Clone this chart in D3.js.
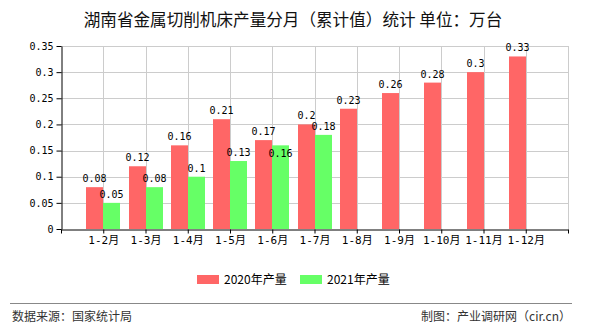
<!DOCTYPE html>
<html><head><meta charset="utf-8">
<script src="https://cdn.jsdelivr.net/npm/d3@7/dist/d3.min.js"></script>
<style>body{margin:0;background:#fff}svg{display:block}</style>
</head><body>
<svg id="c" width="590" height="330"></svg>
<script>
const categories = ["1-2月","1-3月","1-4月","1-5月","1-6月","1-7月","1-8月","1-9月","1-10月","1-11月","1-12月"];
const values2020 = [0.08,0.12,0.16,0.21,0.17,0.2,0.23,0.26,0.28,0.3,0.33];
const values2021 = [0.05,0.08,0.1,0.13,0.16,0.18];
const yTicks = [0,0.05,0.1,0.15,0.2,0.25,0.3,0.35];
const yTickLabels = ["0","0.05","0.1","0.15","0.2","0.25","0.3","0.35"];
const seriesNames = ["2020年产量","2021年产量"];
const colors = ["#ff6666","#66ff66"];
const title = "湖南省金属切削机床产量分月（累计值）统计 单位：万台";

const svg = d3.select("#c");
const L = 61, R = 568, T = 46, B = 229;
const x = d3.scaleLinear().domain([0, categories.length + 1]).range([L, R]);
const y = d3.scaleLinear().domain([0, 0.35]).range([B, T]);
const bw = 17;
const mono = "'DejaVu Sans Mono','Noto Sans CJK SC',monospace";
const cjk = "'Noto Sans CJK SC','DejaVu Sans',sans-serif";

svg.append("text").attr("x", 293).attr("y", 26).attr("text-anchor","middle")
  .attr("font-family", cjk).attr("font-size", 16.6).attr("fill","#111").text(title);

// grid
const g = svg.append("g");
g.selectAll(".hg").data(yTicks.slice(1)).join("line")
  .attr("x1", L).attr("x2", R).attr("y1", d=>Math.round(y(d))+0.5).attr("y2", d=>Math.round(y(d))+0.5)
  .attr("stroke","#cccccc");
const vpos = categories.map((c,i)=>i+1).concat([categories.length+1]);
g.selectAll(".vg").data(vpos).join("line")
  .attr("x1", d=>Math.round(x(d))+0.5).attr("x2", d=>Math.round(x(d))+0.5).attr("y1", T).attr("y2", B)
  .attr("stroke","#cccccc");

// bars
const s2020 = values2020.map((v,i)=>({v,i}));
const s2021 = values2021.map((v,i)=>({v,i}));
svg.selectAll(".b1").data(s2020).join("rect")
  .attr("x", d=>Math.round(x(d.i+1))-bw).attr("width", bw)
  .attr("y", d=>y(d.v)).attr("height", d=>B-y(d.v)).attr("fill", colors[0]);
svg.selectAll(".b2").data(s2021).join("rect")
  .attr("x", d=>Math.round(x(d.i+1))).attr("width", bw)
  .attr("y", d=>y(d.v)).attr("height", d=>B-y(d.v)).attr("fill", colors[1]);

// labels
svg.selectAll(".l1").data(s2020).join("text")
  .attr("x", d=>Math.round(x(d.i+1))-bw/2).attr("y", d=>y(d.v)-5)
  .attr("text-anchor","middle").attr("font-family", mono).attr("font-size",10).attr("fill","#000")
  .text(d=>String(d.v));
svg.selectAll(".l2").data(s2021).join("text")
  .attr("x", d=>Math.round(x(d.i+1))+bw/2)
  .attr("y", d=>{
    const gap = y(d.v) - y(values2020[d.i]);
    return gap < 8 ? y(d.v) + 12 : y(d.v) - 5;
  })
  .attr("text-anchor","middle").attr("font-family", mono).attr("font-size",10).attr("fill","#000")
  .text(d=>String(d.v));

// y axis
const ya = svg.append("g").attr("transform",`translate(${L+0.5},0)`)
  .call(d3.axisLeft(y).tickValues(yTicks).tickFormat((d,i)=>yTickLabels[i]).tickSize(5).tickSizeOuter(0).tickPadding(3));
ya.select(".domain").attr("stroke","#000");
ya.selectAll(".tick line").attr("stroke","#000");
ya.selectAll("text").attr("font-family", mono).attr("font-size",10).attr("fill","#000");

// x axis
const xa = svg.append("g").attr("transform",`translate(0,${B+0.5})`)
  .call(d3.axisBottom(x).tickValues(d3.range(0, categories.length+2)).tickFormat(d=> (d>=1 && d<=categories.length) ? categories[d-1] : "").tickSize(4).tickSizeOuter(0).tickPadding(3));
xa.select(".domain").attr("stroke","#000");
xa.selectAll(".tick line").attr("stroke","#000");
xa.selectAll("text").attr("font-family", mono).attr("font-size",11).attr("fill","#000");

// legend
const lg = svg.append("g");
const lx = [197, 300];
seriesNames.forEach((n,i)=>{
  lg.append("rect").attr("x", lx[i]).attr("y", 275).attr("width", 22).attr("height", 9).attr("fill", colors[i]);
  lg.append("text").attr("x", lx[i]+27).attr("y", 284).attr("font-family", cjk).attr("font-size", 12).attr("fill","#000").text(n);
});

svg.append("line").attr("x1", 10).attr("x2", 572).attr("y1", 303.5).attr("y2", 303.5).attr("stroke","#888").attr("stroke-width",1);
svg.append("text").attr("x", 12).attr("y", 321).attr("font-family", cjk).attr("font-size", 12).attr("fill","#333").text("数据来源：国家统计局");
svg.append("text").attr("x", 571).attr("y", 321).attr("text-anchor","end").attr("font-family", cjk).attr("font-size", 12).attr("fill","#333").text("制图：产业调研网（cir.cn）");
</script>
</body></html>
